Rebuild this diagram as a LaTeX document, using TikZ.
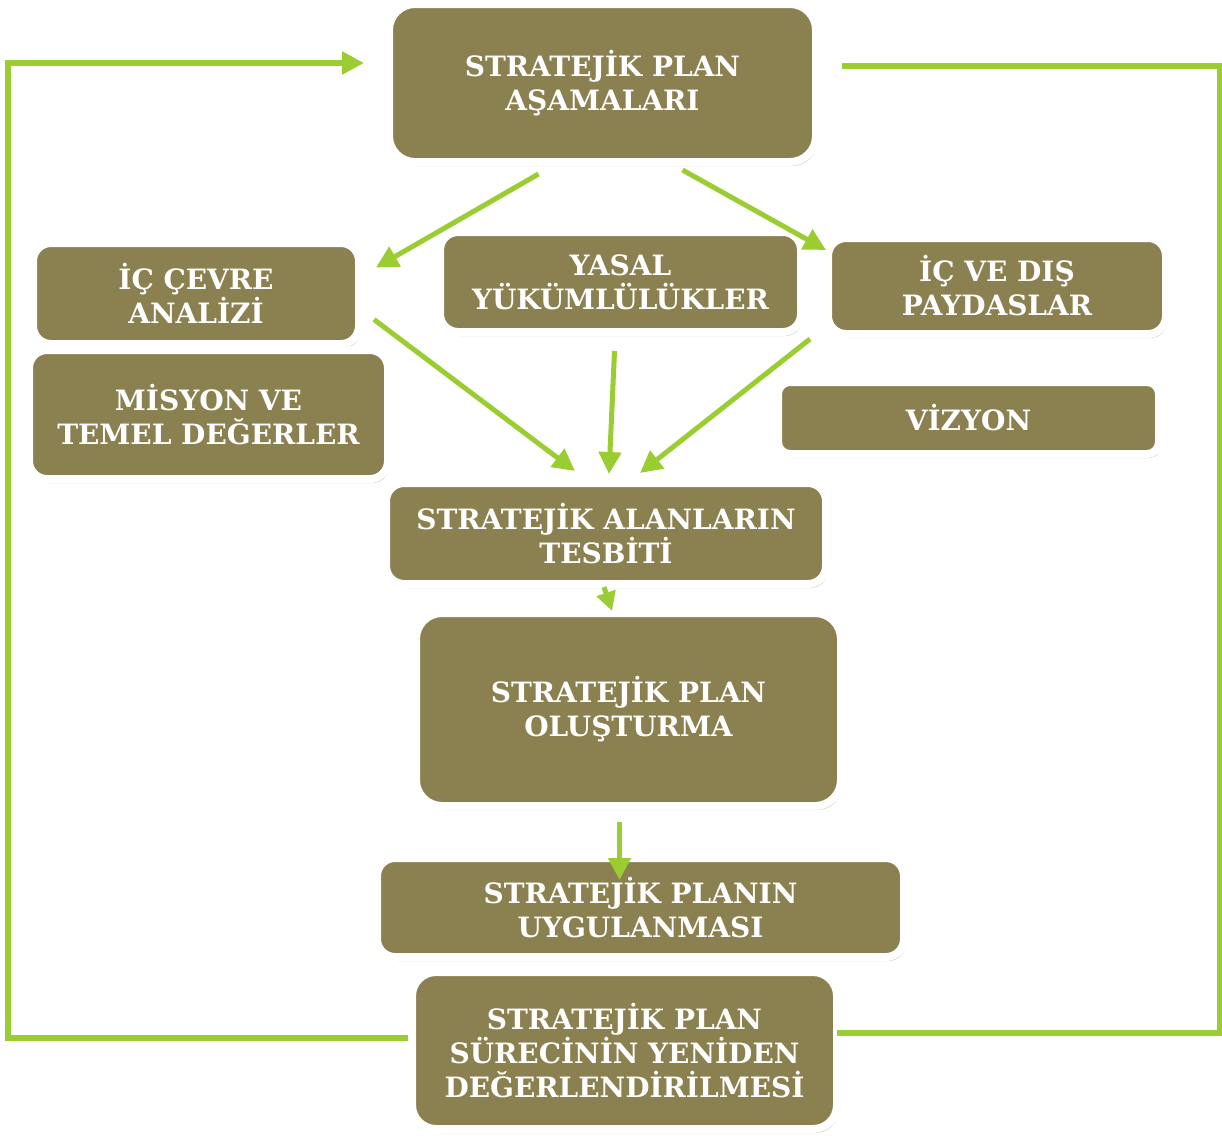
\documentclass[tikz,border=0pt]{standalone}
\usepackage{fontspec}
\setmainfont{DejaVu Serif}
\usepackage{tikz}
\usetikzlibrary{arrows.meta, shadows}

\definecolor{olive}{RGB}{139,128,80}
\definecolor{leaf}{RGB}{154,205,50}

\begin{document}
\begin{tikzpicture}[x = 1pt, y = -1pt,
    box/.style = {draw = white, line width = 8pt, fill = olive, rounded corners = 18pt,
                  text = white, align = center, inner sep = 0pt,
                  font = \fontsize{28}{34}\selectfont\bfseries,
                  drop shadow = {shadow xshift = 2pt, shadow yshift = -4pt, opacity = 0.4, fill = black!60}},
    arr/.style = {color = leaf, line width = 5pt, -{Triangle[length = 22pt, width = 22pt]}},
    loop/.style = {color = leaf, line width = 6pt}]
  \useasboundingbox (0,0) rectangle (1222,1135);

  \node[box, rounded corners = 26pt, minimum width = 427pt, minimum height = 158pt] (top) at (602.5,83) {STRATEJİK PLAN\\AŞAMALARI};
  \node[box, minimum width = 326pt, minimum height = 101pt] (ic) at (196,293.5) {İÇ ÇEVRE\\ANALİZİ};
  \node[box, minimum width = 361pt, minimum height = 100pt] (yasal) at (620.5,282) {YASAL\\YÜKÜMLÜLÜKLER};
  \node[box, minimum width = 338pt, minimum height = 96pt] (pay) at (997,286) {İÇ VE DIŞ\\PAYDASLAR};
  \node[box, minimum width = 359pt, minimum height = 129pt] (misyon) at (208.5,414.5) {MİSYON VE\\TEMEL DEĞERLER};
  \node[box, rounded corners = 12pt, minimum width = 381pt, minimum height = 72pt] (vizyon) at (968.5,418) {VİZYON};
  \node[box, minimum width = 440pt, minimum height = 101pt] (alan) at (606,533.5) {STRATEJİK ALANLARIN\\TESBİTİ};
  \node[box, rounded corners = 26pt, minimum width = 425pt, minimum height = 193pt] (olus) at (628.5,709.5) {STRATEJİK PLAN\\OLUŞTURMA};
  \node[box, minimum width = 527pt, minimum height = 99pt] (uygula) at (640.5,907.5) {STRATEJİK PLANIN\\UYGULANMASI};
  \node[box, rounded corners = 24pt, minimum width = 425pt, minimum height = 157pt] (eval) at (624.5,1050.5) {STRATEJİK PLAN\\SÜRECİNİN YENİDEN\\DEĞERLENDİRİLMESİ};

  % arrows between the stages
  \draw[arr] ([xshift = -64pt, yshift = -8pt]top.south) -- ([xshift = 13pt, yshift = 26pt]ic.east);
  \draw[arr] ([xshift = 80pt, yshift = -4pt]top.south) -- ([xshift = 2pt, yshift = -16pt]pay.north west);
  \draw[arr] ([xshift = 11pt, yshift = -26pt]ic.east) -- ([xshift = -31pt, yshift = 8pt]alan.north);
  \draw[arr] ([xshift = -6pt, yshift = -15pt]yasal.south) -- ([xshift = 3pt, yshift = 5pt]alan.north);
  \draw[arr] ([xshift = -14pt, yshift = -1pt]pay.south west) -- ([xshift = 34pt, yshift = 6pt]alan.north);
  \draw[arr, -{Triangle[length = 19pt, width = 19pt]}] ([xshift = -2pt, yshift = 1pt]alan.south) -- ([xshift = 6pt, yshift = -2pt]alan.south |- olus.north);
  \draw[arr] ([xshift = -9pt, yshift = -12pt]olus.south) -- ([xshift = -21pt, yshift = -26pt]uygula.north);

  % feedback loop
  \draw[loop, -{Triangle[length = 22pt, width = 22pt]}] ([yshift = 13pt]eval.west) -- ++(-400,0)
        |- ([xshift = -21pt, yshift = 20pt]top.west);
  \draw[loop] ([xshift = -4pt, yshift = 18pt]eval.east) -- ++(383,0)
        |- ([xshift = 22pt, yshift = 17pt]top.east);
\end{tikzpicture}
\end{document}
